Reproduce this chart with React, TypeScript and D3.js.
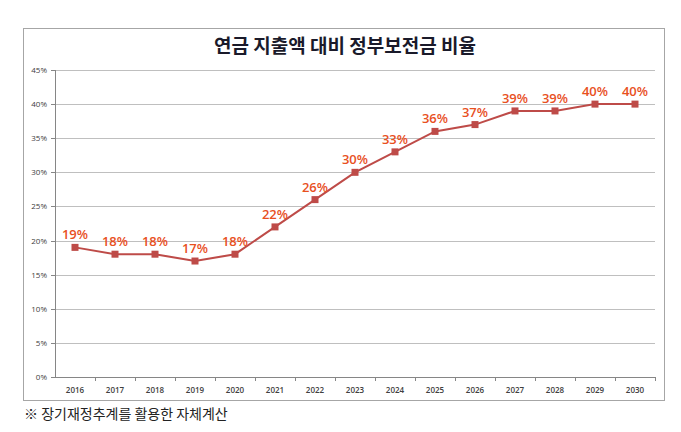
import React from "react";
import * as d3 from "d3";

const years = ["2016","2017","2018","2019","2020","2021","2022","2023","2024","2025","2026","2027","2028","2029","2030"];
const ratios = [19, 18, 18, 17, 18, 22, 26, 30, 33, 36, 37, 39, 39, 40, 40];
const yTicks = [0, 5, 10, 15, 20, 25, 30, 35, 40, 45];
const title = "연금 지출액 대비 정부보전금 비율";
const footnote = "※ 장기재정추계를 활용한 자체계산";

export default function App() {
  const W = 681, H = 432;
  const left = 55, right = 655, top = 70, bottom = 377;
  const x = d3.scaleBand().domain(years).range([left, right]);
  const y = d3.scaleLinear().domain([0, 45]).range([bottom, top]);
  const cx = (d: string) => (x(d) as number) + x.bandwidth() / 2;
  const line = d3.line<number>().x((_, i) => cx(years[i])).y((v) => y(v));
  const numFont = "'Open Sans', 'Noto Sans', sans-serif";
  return (
    <svg width={W} height={H} style={{ position: "absolute", left: 0, top: 0, background: "#fff" }}>
      <rect x={23.5} y={28.5} width={641} height={372} fill="#fff" stroke="#a6a6a6" strokeWidth={1} />
      <text x={345} y={53} textAnchor="middle" fontFamily="'Noto Sans CJK KR', sans-serif" fontWeight="bold" fontSize={19} fill="#1a1a2a">{title}</text>
      {yTicks.map((t) => (
        <g key={t}>
          {t > 0 && <line x1={left} x2={right} y1={Math.round(y(t)) + 0.5} y2={Math.round(y(t)) + 0.5} stroke="#bfbfbf" strokeWidth={1} />}
          <line x1={left - 4} x2={left} y1={Math.round(y(t)) + 0.5} y2={Math.round(y(t)) + 0.5} stroke="#868686" />
          <text x={left - 8} y={y(t) + 3} textAnchor="end" fontFamily={numFont} fontSize={8} fill="#404040">{t}%</text>
        </g>
      ))}
      <line x1={left + 0.5} x2={left + 0.5} y1={top} y2={bottom} stroke="#868686" />
      <line x1={left} x2={right} y1={bottom + 0.5} y2={bottom + 0.5} stroke="#868686" />
      {years.map((yr) => (
        <line key={"t" + yr} x1={(x(yr) as number) + x.bandwidth() + 0.5} x2={(x(yr) as number) + x.bandwidth() + 0.5} y1={bottom} y2={bottom + 4} stroke="#868686" />
      ))}
      {years.map((yr) => (
        <text key={"l" + yr} x={cx(yr)} y={393} textAnchor="middle" fontFamily={numFont} fontSize={8} fontWeight="600" fill="#404040">{yr}</text>
      ))}
      <path d={line(ratios) || ""} fill="none" stroke="#be4b48" strokeWidth={2} />
      {ratios.map((v, i) => (
        <rect key={"m" + i} x={cx(years[i]) - 3.5} y={y(v) - 3.5} width={7} height={7} fill="#be4b48" />
      ))}
      {ratios.map((v, i) => (
        <text key={"d" + i} x={cx(years[i])} y={y(v) - 8} textAnchor="middle" fontFamily={numFont} fontWeight="600" fontSize={13} fill="#e8501e">{v}%</text>
      ))}
      <text x={24} y={419} fontFamily="'Noto Sans CJK KR', sans-serif" fontSize={14} fill="#222">{footnote}</text>
    </svg>
  );
}
